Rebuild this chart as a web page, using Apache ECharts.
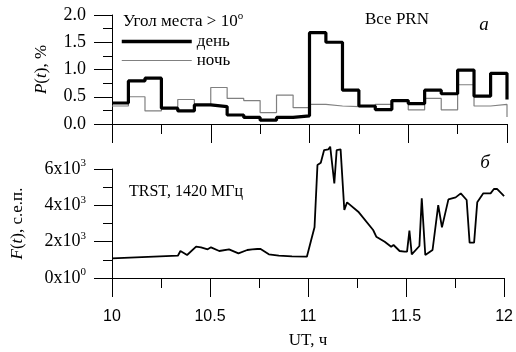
<!DOCTYPE html>
<html>
<head>
<meta charset="utf-8">
<script src="https://cdn.jsdelivr.net/npm/echarts@6/dist/echarts.min.js"></script>
<style>
  html, body { margin: 0; padding: 0; background: #fff; }
  #chart { width: 516px; height: 352px; }
</style>
</head>
<body>
<div id="chart"></div>
<script>
// верхняя панель: P(t), шаг 5 мин
const binTimes = [10.0, 10.083, 10.167, 10.25, 10.333, 10.417, 10.5, 10.583, 10.667, 10.75, 10.833, 10.917,
  11.0, 11.083, 11.167, 11.25, 11.333, 11.417, 11.5, 11.583, 11.667, 11.75, 11.833, 11.917, 12.0];
const dayP = [0.385, 0.79, 0.84, 0.29, 0.24, 0.35, 0.32, 0.165, 0.12, 0.07, 0.12, 0.15,
  1.675, 1.50, 0.62, 0.33, 0.265, 0.43, 0.375, 0.62, 0.555, 0.99, 0.51, 0.93, 0.45];
const nightP = [0.33, 0.50, 0.24, 0.29, 0.45, 0.35, 0.67, 0.47, 0.43, 0.21, 0.53, 0.30,
  0.36, 0.33, 0.32, 0.32, 0.36, 0.44, 0.26, 0.47, 0.26, 0.72, 0.33, 0.36, 0.13];

// нижняя панель: F(t)
const fTimes = [10.0, 10.336, 10.349, 10.383, 10.429, 10.454, 10.488, 10.505, 10.547, 10.597, 10.645, 10.69,
  10.715, 10.741, 10.758, 10.8, 10.851, 10.918, 10.994, 11.003, 11.016, 11.033, 11.048, 11.065, 11.082,
  11.104, 11.113, 11.134, 11.146, 11.166, 11.185, 11.199, 11.256, 11.332, 11.348, 11.391, 11.424, 11.436,
  11.467, 11.492, 11.505, 11.517, 11.529, 11.568, 11.58, 11.598, 11.635, 11.664, 11.683, 11.716, 11.753,
  11.779, 11.809, 11.824, 11.847, 11.863, 11.894, 11.931, 11.948, 11.965, 12.0];
const fValues = [1084, 1227, 1486, 1266, 1724, 1688, 1578, 1688, 1486, 1578, 1358, 1541,
  1578, 1596, 1596, 1303, 1229, 1193, 1174, 1266, 2091, 2789, 6219, 6346, 7045,
  7083, 7230, 5212, 7045, 7083, 3742, 4165, 3650, 2642, 2275, 1998, 1724, 1816,
  1486, 1449, 1449, 2605, 1303, 1761, 4385, 1266, 1541, 4017, 2789, 4330, 4440,
  4660, 4293, 1945, 1945, 4165, 4660, 4660, 4898, 4898, 4513];

const fMantissa = { 0: '0', 2000: '2', 4000: '4', 6000: '6' };
const fExponent = { 0: '0', 2000: '3', 4000: '3', 6000: '3' };

const serif = 'Liberation Serif';
const sans = 'Liberation Sans';

const chart = echarts.init(document.getElementById('chart'));

const xCommon = {
  type: 'value',
  min: 10,
  max: 12,
  interval: 0.5,
  splitLine: { show: false },
  axisLine: { lineStyle: { color: '#000', width: 1 } },
  axisTick: { length: 19, lineStyle: { color: '#000' } },
  minorTick: { show: true, splitNumber: 2, length: 10, lineStyle: { color: '#000' } },
};
const yCommon = {
  type: 'value',
  splitLine: { show: false },
  axisLine: { show: true, lineStyle: { color: '#000', width: 1 } },
  axisTick: { show: true, length: 18, lineStyle: { color: '#000' } },
  minorTick: { show: true, splitNumber: 2, length: 9, lineStyle: { color: '#000' } },
};

const option = {
  animation: false,
  grid: [
    { left: 112, top: 15, width: 395, height: 109 },
    { left: 112, top: 169, width: 395, height: 109 },
  ],
  xAxis: [
    Object.assign({}, xCommon, { gridIndex: 0, axisLabel: { show: false } }),
    Object.assign({}, xCommon, {
      gridIndex: 1,
      axisLabel: { margin: 31, fontFamily: sans, fontSize: 16, color: '#000' },
      name: 'UT, ч',
      nameLocation: 'middle',
      nameGap: 54,
      nameTextStyle: { fontFamily: serif, fontSize: 17, color: '#000' },
    }),
  ],
  yAxis: [
    Object.assign({}, yCommon, {
      gridIndex: 0,
      min: 0,
      max: 2,
      interval: 0.5,
      axisLabel: { margin: 26, fontFamily: serif, fontSize: 18, color: '#000',
        formatter: v => v.toFixed(1) },
      name: '{i|P}{n|(}{i|t}{n|), %}',
      nameLocation: 'middle',
      nameGap: 62,
      nameTextStyle: {
        rich: {
          i: { fontFamily: serif, fontSize: 17, fontStyle: 'italic', color: '#000' },
          n: { fontFamily: serif, fontSize: 17, color: '#000' },
        },
      },
    }),
    Object.assign({}, yCommon, {
      gridIndex: 1,
      min: 0,
      max: 6000,
      interval: 2000,
      axisLabel: {
        margin: 26,
        formatter: v => '{a|' + fMantissa[v] + 'x10}{s|' + fExponent[v] + '}',
        rich: {
          a: { fontFamily: serif, fontSize: 18, color: '#000', lineHeight: 22 },
          s: { fontFamily: serif, fontSize: 11, color: '#000', verticalAlign: 'top', lineHeight: 22 },
        },
      },
      name: '{i|F}{n|(}{i|t}{n|), с.е.п.}',
      nameLocation: 'middle',
      nameGap: 86,
      nameTextStyle: {
        rich: {
          i: { fontFamily: serif, fontSize: 17, fontStyle: 'italic', color: '#000' },
          n: { fontFamily: serif, fontSize: 17, color: '#000' },
        },
      },
    }),
  ],
  legend: {
    show: true,
    orient: 'vertical',
    left: 120,
    top: 33,
    padding: 0,
    itemWidth: 70,
    itemHeight: 14,
    itemGap: 2,
    itemStyle: { color: 'transparent', borderWidth: 0, opacity: 0 },
    textStyle: { fontFamily: serif, fontSize: 17, color: '#000' },
    data: [
      { name: 'день', lineStyle: { width: 3.5 } },
      { name: 'ночь', lineStyle: { width: 1.2 } },
    ],
  },
  title: [
    {
      text: '{n|Угол места > 10}{s|o}',
      left: 123,
      top: 11,
      padding: 0,
      textStyle: {
        fontWeight: 'normal',
        rich: {
          n: { fontFamily: serif, fontSize: 17, fontWeight: 'normal', color: '#000', lineHeight: 22 },
          s: { fontFamily: serif, fontSize: 11, fontWeight: 'normal', color: '#000', verticalAlign: 'top', lineHeight: 22 },
        },
      },
    },
  ],
  graphic: [
    { type: 'text', x: 397, y: 20, style: { text: 'Все PRN', font: '17px "Liberation Serif"', fill: '#000', align: 'center', verticalAlign: 'middle' } },
    { type: 'text', x: 484, y: 25, style: { text: 'а', font: 'italic 19px "Liberation Serif"', fill: '#000', align: 'center', verticalAlign: 'middle' } },
    { type: 'text', x: 129, y: 192, style: { text: 'TRST, 1420 МГц', font: '16px "Liberation Serif"', fill: '#000', align: 'left', verticalAlign: 'middle' } },
    { type: 'text', x: 485, y: 163, style: { text: 'б', font: 'italic 19px "Liberation Serif"', fill: '#000', align: 'center', verticalAlign: 'middle' } },
  ],
  series: [
    {
      name: 'ночь',
      type: 'line',
      xAxisIndex: 0,
      yAxisIndex: 0,
      step: 'end',
      symbol: 'none',
      itemStyle: { color: '#808080' },
      lineStyle: { color: '#808080', width: 1.2 },
      data: binTimes.map((t, i) => [t, nightP[i]]),
    },
    {
      name: 'день',
      type: 'line',
      xAxisIndex: 0,
      yAxisIndex: 0,
      step: 'end',
      symbol: 'none',
      itemStyle: { color: '#000' },
      lineStyle: { color: '#000', width: 3.2 },
      data: binTimes.map((t, i) => [t, dayP[i]]),
    },
    {
      name: 'F',
      type: 'line',
      xAxisIndex: 1,
      yAxisIndex: 1,
      symbol: 'none',
      clip: false,
      itemStyle: { color: '#000' },
      lineStyle: { color: '#000', width: 1.8 },
      data: fTimes.map((t, i) => [t, fValues[i]]),
    },
  ],
};

chart.setOption(option);
</script>
</body>
</html>
